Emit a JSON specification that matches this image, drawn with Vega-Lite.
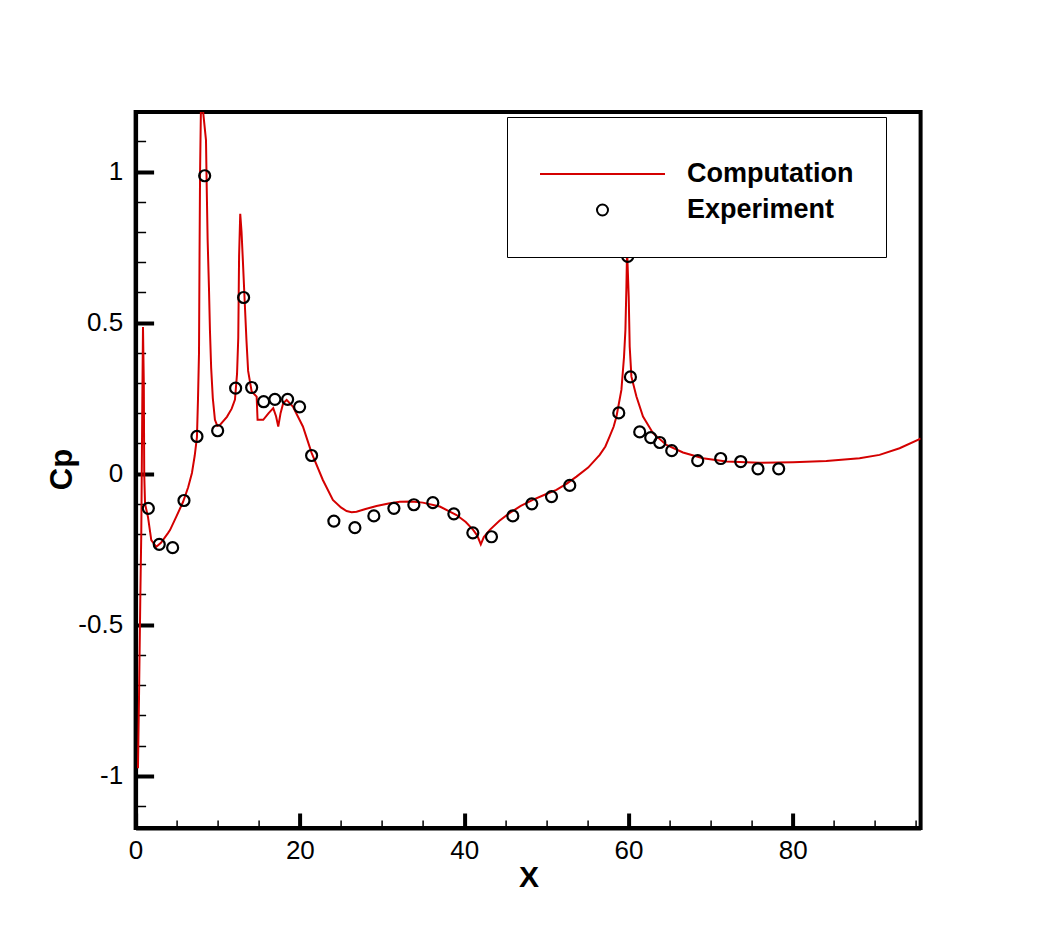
{
  "$schema": "https://vega.github.io/schema/vega-lite/v6.json",
  "width": 785,
  "height": 716,
  "autosize": {"type": "none"},
  "padding": {"left": 135.6, "top": 112, "right": 128.4, "bottom": 105},
  "background": "white",
  "config": {
    "view": {"stroke": "black", "strokeWidth": 4},
    "font": "Liberation Sans"
  },
  "datasets": {
    "comp": [
      {"x": 0.29, "y": -0.975}, {"x": 0.41, "y": -0.75}, {"x": 0.57, "y": -0.42}, {"x": 0.69, "y": -0.2},
      {"x": 0.75, "y": 0.0}, {"x": 0.82, "y": 0.25}, {"x": 0.9, "y": 0.485}, {"x": 1.0, "y": 0.3},
      {"x": 1.05, "y": 0.0}, {"x": 1.15, "y": -0.1}, {"x": 1.51, "y": -0.144}, {"x": 1.91, "y": -0.22},
      {"x": 2.52, "y": -0.242}, {"x": 3.09, "y": -0.229}, {"x": 3.94, "y": -0.197}, {"x": 4.19, "y": -0.187},
      {"x": 5.0, "y": -0.14}, {"x": 5.77, "y": -0.094}, {"x": 6.4, "y": -0.045}, {"x": 6.86, "y": 0.002},
      {"x": 7.2, "y": 0.06}, {"x": 7.47, "y": 0.121}, {"x": 7.6, "y": 0.25}, {"x": 7.72, "y": 0.4},
      {"x": 7.78, "y": 0.7}, {"x": 7.85, "y": 1.0}, {"x": 7.95, "y": 1.2}, {"x": 8.1, "y": 1.23},
      {"x": 8.32, "y": 1.171}, {"x": 8.57, "y": 1.104}, {"x": 8.65, "y": 0.962}, {"x": 8.77, "y": 0.774},
      {"x": 8.93, "y": 0.618}, {"x": 9.05, "y": 0.476}, {"x": 9.2, "y": 0.35}, {"x": 9.4, "y": 0.25},
      {"x": 9.66, "y": 0.178}, {"x": 9.95, "y": 0.158}, {"x": 10.3, "y": 0.162}, {"x": 11.12, "y": 0.188},
      {"x": 11.7, "y": 0.215}, {"x": 12.1, "y": 0.245}, {"x": 12.35, "y": 0.33}, {"x": 12.5, "y": 0.45},
      {"x": 12.6, "y": 0.72}, {"x": 12.74, "y": 0.86}, {"x": 12.9, "y": 0.8}, {"x": 13.07, "y": 0.7},
      {"x": 13.3, "y": 0.56}, {"x": 13.5, "y": 0.44}, {"x": 13.7, "y": 0.34}, {"x": 14.13, "y": 0.272},
      {"x": 14.74, "y": 0.255}, {"x": 14.85, "y": 0.178}, {"x": 15.54, "y": 0.178}, {"x": 16.2, "y": 0.2},
      {"x": 16.76, "y": 0.217}, {"x": 17.1, "y": 0.19}, {"x": 17.37, "y": 0.156}, {"x": 17.65, "y": 0.2},
      {"x": 17.97, "y": 0.233}, {"x": 18.39, "y": 0.244}, {"x": 19.15, "y": 0.222}, {"x": 20.37, "y": 0.156},
      {"x": 21.43, "y": 0.069}, {"x": 22.8, "y": -0.021}, {"x": 24.02, "y": -0.087}, {"x": 25.0, "y": -0.112},
      {"x": 25.69, "y": -0.124}, {"x": 26.3, "y": -0.128}, {"x": 26.9, "y": -0.126}, {"x": 28.0, "y": -0.117}, {"x": 29.34, "y": -0.107},
      {"x": 30.8, "y": -0.099}, {"x": 32.17, "y": -0.093}, {"x": 33.6, "y": -0.092}, {"x": 34.97, "y": -0.096}, {"x": 37.04, "y": -0.109},
      {"x": 39.08, "y": -0.137}, {"x": 40.2, "y": -0.16}, {"x": 41.1, "y": -0.186}, {"x": 41.6, "y": -0.205},
      {"x": 42.03, "y": -0.234}, {"x": 42.4, "y": -0.21}, {"x": 43.13, "y": -0.186}, {"x": 44.3, "y": -0.156},
      {"x": 45.56, "y": -0.13}, {"x": 46.9, "y": -0.107}, {"x": 48.36, "y": -0.087}, {"x": 49.8, "y": -0.07},
      {"x": 51.24, "y": -0.054}, {"x": 52.5, "y": -0.033}, {"x": 53.68, "y": -0.01}, {"x": 55.1, "y": 0.02},
      {"x": 56.51, "y": 0.062}, {"x": 57.2, "y": 0.09}, {"x": 57.72, "y": 0.123}, {"x": 58.2, "y": 0.155},
      {"x": 58.55, "y": 0.189}, {"x": 59.15, "y": 0.277}, {"x": 59.47, "y": 0.387}, {"x": 59.64, "y": 0.476},
      {"x": 59.76, "y": 0.619}, {"x": 59.84, "y": 0.741}, {"x": 60.04, "y": 0.586}, {"x": 60.16, "y": 0.421},
      {"x": 60.37, "y": 0.321}, {"x": 60.98, "y": 0.255}, {"x": 61.78, "y": 0.189}, {"x": 63.0, "y": 0.134},
      {"x": 64.63, "y": 0.095}, {"x": 66.65, "y": 0.07}, {"x": 69.08, "y": 0.051}, {"x": 71.93, "y": 0.04},
      {"x": 75.98, "y": 0.036}, {"x": 80.04, "y": 0.038}, {"x": 84.1, "y": 0.042}, {"x": 88.15, "y": 0.051},
      {"x": 90.58, "y": 0.062}, {"x": 93.02, "y": 0.084}, {"x": 95.45, "y": 0.114}, {"x": 95.58, "y": 0.117}
    ],
    "exp": [
      {"x": 1.55, "y": -0.115}, {"x": 2.88, "y": -0.234}, {"x": 4.51, "y": -0.245}, {"x": 5.89, "y": -0.089},
      {"x": 7.47, "y": 0.123}, {"x": 8.41, "y": 0.986}, {"x": 9.99, "y": 0.142}, {"x": 12.18, "y": 0.283},
      {"x": 13.15, "y": 0.583}, {"x": 14.13, "y": 0.285}, {"x": 15.59, "y": 0.238}, {"x": 16.96, "y": 0.246},
      {"x": 18.51, "y": 0.246}, {"x": 19.97, "y": 0.221}, {"x": 21.43, "y": 0.06}, {"x": 24.14, "y": -0.157},
      {"x": 26.7, "y": -0.179}, {"x": 29.01, "y": -0.14}, {"x": 31.45, "y": -0.115}, {"x": 33.88, "y": -0.103},
      {"x": 36.19, "y": -0.096}, {"x": 38.75, "y": -0.133}, {"x": 41.06, "y": -0.196}, {"x": 43.33, "y": -0.209},
      {"x": 45.93, "y": -0.14}, {"x": 48.24, "y": -0.1}, {"x": 50.64, "y": -0.076}, {"x": 52.86, "y": -0.039},
      {"x": 58.83, "y": 0.201}, {"x": 59.92, "y": 0.719}, {"x": 60.25, "y": 0.32}, {"x": 61.38, "y": 0.138},
      {"x": 62.72, "y": 0.119}, {"x": 63.82, "y": 0.103}, {"x": 65.28, "y": 0.076}, {"x": 68.44, "y": 0.043},
      {"x": 71.24, "y": 0.05}, {"x": 73.68, "y": 0.04}, {"x": 75.78, "y": 0.016}, {"x": 78.3, "y": 0.016}
    ]
  },
  "encoding": {
    "x": {
      "field": "x", "type": "quantitative",
      "scale": {"domain": [0, 95.58], "nice": false, "zero": false},
      "axis": {
        "values": [0, 5, 10, 15, 20, 25, 30, 35, 40, 45, 50, 55, 60, 65, 70, 75, 80, 85, 90, 95],
        "labelExpr": "datum.value % 20 === 0 ? '' + datum.value : ''",
        "tickSize": {"condition": {"test": "datum.value % 20 === 0", "value": -15}, "value": -8},
        "tickWidth": {"condition": {"test": "datum.value % 20 === 0", "value": 4}, "value": 1.5},
        "tickColor": "black",
        "domainColor": "black", "domainWidth": 4,
        "labelFont": "Liberation Sans", "labelFontSize": 26, "labelColor": "black",
        "labelPadding": 24, "labelFlush": false, "labelOverlap": false,
        "grid": false,
        "title": "X", "titleFont": "Liberation Sans", "titleFontSize": 30, "titleFontWeight": "bold",
        "titleColor": "black", "titleX": 393, "titleY": 58.7, "titleBaseline": "alphabetic", "titleAlign": "center"
      }
    },
    "y": {
      "field": "y", "type": "quantitative",
      "scale": {"domain": [-1.173, 1.197], "nice": false, "zero": false},
      "axis": {
        "values": [-1.1, -1, -0.9, -0.8, -0.7, -0.6, -0.5, -0.4, -0.3, -0.2, -0.1, 0, 0.1, 0.2, 0.3, 0.4, 0.5, 0.6, 0.7, 0.8, 0.9, 1, 1.1],
        "labelExpr": "abs(datum.value * 2 - round(datum.value * 2)) < 0.001 ? '' + round(datum.value * 10) / 10 : ''",
        "tickSize": {"condition": {"test": "abs(datum.value * 2 - round(datum.value * 2)) < 0.001", "value": -18}, "value": -10},
        "tickWidth": {"condition": {"test": "abs(datum.value * 2 - round(datum.value * 2)) < 0.001", "value": 4}, "value": 1.5},
        "tickColor": "black",
        "domainColor": "black", "domainWidth": 4,
        "labelFont": "Liberation Sans", "labelFontSize": 26, "labelColor": "black",
        "labelPadding": 31, "labelFlush": false, "labelOverlap": false,
        "grid": false,
        "title": "Cp", "titleFont": "Liberation Sans", "titleFontSize": 31, "titleFontWeight": "bold",
        "titleColor": "black", "titleX": -64, "titleY": 357, "titleAngle": -90,
        "titleBaseline": "alphabetic", "titleAlign": "center"
      }
    },
    "color": {
      "field": "series", "type": "nominal",
      "scale": {"domain": ["Computation", "Experiment"], "range": ["#d40000", "black"]},
      "legend": {
        "orient": "none", "legendX": 371.4, "legendY": 5,
        "title": " ", "titleFontSize": 5, "titlePadding": 5,
        "strokeColor": "black", "fillColor": "white", "padding": 32,
        "columns": 1, "clipHeight": 30, "rowPadding": 6,
        "symbolType": "stroke", "symbolSize": 15625, "symbolStrokeWidth": 2,
        "labelFont": "Liberation Sans", "labelFontSize": 27, "labelFontWeight": "bold",
        "labelColor": "black", "labelOffset": 21, "labelLimit": 400,
        "encode": {
          "symbols": {
            "update": {
              "shape": {"signal": "datum.value === 'Computation' ? 'stroke' : 'M-0.088,0A0.088,0.088,0,1,1,0.088,0A0.088,0.088,0,1,1,-0.088,0Z'"},
              "fill": {"value": "transparent"},
              "strokeWidth": {"value": 2},
              "opacity": {"value": 1}
            }
          }
        }
      }
    }
  },
  "layer": [
    {
      "data": {"name": "comp"},
      "transform": [{"calculate": "'Computation'", "as": "series"}],
      "mark": {"type": "line", "clip": true, "strokeWidth": 2}
    },
    {
      "data": {"name": "exp"},
      "transform": [{"calculate": "'Experiment'", "as": "series"}],
      "mark": {"type": "point", "shape": "circle", "filled": false, "size": 121, "strokeWidth": 2.2, "opacity": 1}
    }
  ]
}
